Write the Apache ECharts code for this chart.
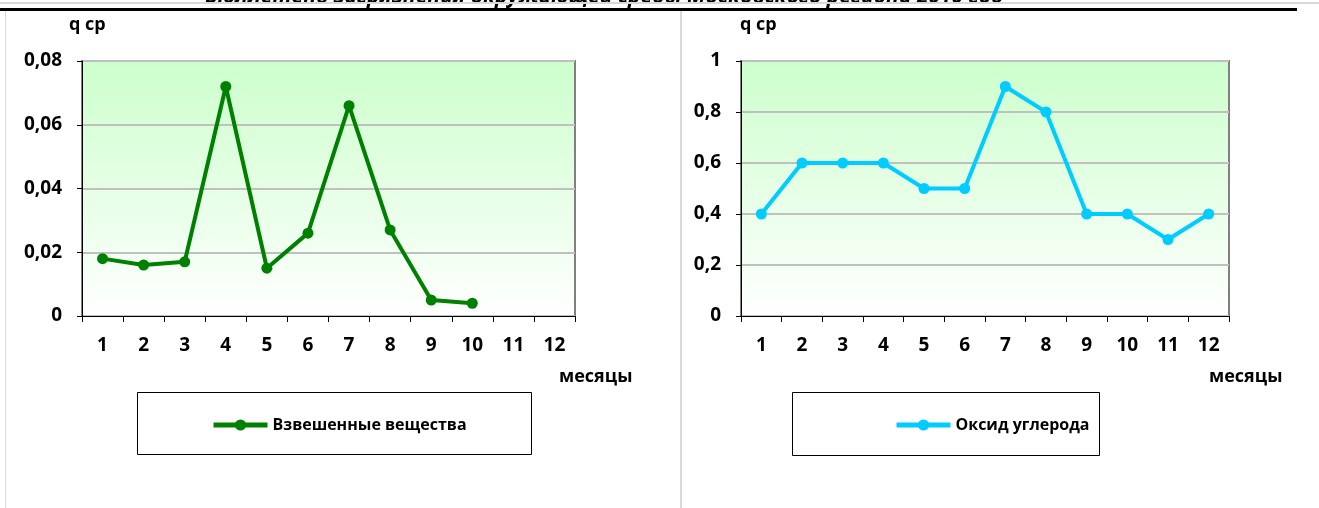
<!DOCTYPE html>
<html>
<head>
<meta charset="utf-8">
<script src="https://cdn.jsdelivr.net/npm/echarts@6/dist/echarts.min.js"></script>
<style>
  html, body { margin: 0; padding: 0; background: #fff; }
  #chart { width: 1319px; height: 508px; }
</style>
</head>
<body>
<div id="chart"></div>
<script>
// Monthly average concentrations (q ср) by month
const months = ['1', '2', '3', '4', '5', '6', '7', '8', '9', '10', '11', '12'];
const suspendedName = 'Взвешенные вещества';
const suspendedValues = [0.018, 0.016, 0.017, 0.072, 0.015, 0.026, 0.066, 0.027, 0.005, 0.004, null, null];
const carbonName = 'Оксид углерода';
const carbonValues = [0.4, 0.6, 0.6, 0.6, 0.5, 0.5, 0.9, 0.8, 0.4, 0.4, 0.3, 0.4];
const headerText = 'Бюллетень загрязнения окружающей среды Московского региона 2010 год';
const yAxisTitle = 'q ср';
const xAxisTitle = 'месяцы';

const FONT = '"Open Sans", "Noto Sans", sans-serif';
const plotFill = {
  type: 'linear', x: 0, y: 0, x2: 0, y2: 1,
  colorStops: [
    { offset: 0, color: '#ccffcc' },
    { offset: 1, color: '#ffffff' }
  ]
};

function commaNum(v) {
  return String(+(+v).toFixed(3)).replace('.', ',');
}

function xAxisCfg(gridIndex) {
  return {
    type: 'category', gridIndex, data: months, boundaryGap: true,
    axisLine: { show: true, lineStyle: { color: '#000', width: 1 } },
    axisTick: { show: true, length: 6, lineStyle: { color: '#000' } },
    axisLabel: { color: '#000', fontFamily: FONT, fontWeight: 'bold', fontSize: 19, margin: 20 },
    splitLine: { show: false }
  };
}

function yAxisCfg(gridIndex, max, interval) {
  return {
    type: 'value', gridIndex, min: 0, max, interval,
    axisLine: { show: true, lineStyle: { color: '#000', width: 1 } },
    axisTick: { show: true, length: 5, lineStyle: { color: '#000' } },
    axisLabel: { color: '#000', fontFamily: FONT, fontWeight: 'bold', fontSize: 19, margin: 20, formatter: commaNum },
    splitLine: { show: true, lineStyle: { color: '#c0c0c0', width: 2 } }
  };
}

function lineSeries(name, data, color, idx) {
  return {
    name, type: 'line', data, xAxisIndex: idx, yAxisIndex: idx,
    symbol: 'circle', symbolSize: 11, connectNulls: false,
    lineStyle: { color, width: 4 }, itemStyle: { color },
    emphasis: { disabled: true }, animation: false
  };
}

function legendCfg(name, left) {
  return {
    data: [name], left, top: 417, padding: 0, itemWidth: 54, itemHeight: 14, itemGap: 4,
    lineStyle: { width: 5 },
    textStyle: { color: '#000', fontFamily: FONT, fontWeight: 'bold', fontSize: 16 },
    selectedMode: false
  };
}

function labelText(x, y, text, size) {
  return {
    type: 'text', left: x, top: y, silent: true,
    style: { text, fill: '#000', font: 'bold ' + size + 'px ' + FONT }
  };
}

const chart = echarts.init(document.getElementById('chart'), null, { renderer: 'canvas' });
chart.setOption({
  backgroundColor: '#fff',
  animation: false,
  grid: [
    { left: 82, right: 744, top: 61, bottom: 192, show: true, backgroundColor: plotFill, borderColor: '#808080', borderWidth: 2 },
    { left: 741, right: 90, top: 61, bottom: 192, show: true, backgroundColor: plotFill, borderColor: '#808080', borderWidth: 2 }
  ],
  xAxis: [xAxisCfg(0), xAxisCfg(1)],
  yAxis: [yAxisCfg(0, 0.08, 0.02), yAxisCfg(1, 1, 0.2)],
  legend: [legendCfg(suspendedName, 211), legendCfg(carbonName, 894)],
  series: [
    lineSeries(suspendedName, suspendedValues, '#008000', 0),
    lineSeries(carbonName, carbonValues, '#00ccff', 1)
  ],
  graphic: [
    // page header line, cut at the top edge
    { type: 'text', left: 205, top: -13, silent: true,
      style: { text: headerText, fill: '#000', font: 'italic bold 21px ' + FONT } },
    { type: 'rect', shape: { x: 0, y: 2, width: 1319, height: 2 }, style: { fill: '#d9d9d9' }, silent: true },
    { type: 'rect', shape: { x: 0, y: 8, width: 1297, height: 3 }, style: { fill: '#000' }, silent: true },
    // panel frames
    { type: 'rect', shape: { x: 5, y: 11, width: 1, height: 497 }, style: { fill: '#d9d9d9' }, silent: true },
    { type: 'rect', shape: { x: 680, y: 11, width: 2, height: 497 }, style: { fill: '#d9d9d9' }, silent: true },
    // legend boxes
    { type: 'rect', shape: { x: 137.5, y: 392.5, width: 394, height: 62 }, style: { fill: 'none', stroke: '#000', lineWidth: 1 }, silent: true, z: -1 },
    { type: 'rect', shape: { x: 792.5, y: 392.5, width: 307, height: 63 }, style: { fill: 'none', stroke: '#000', lineWidth: 1 }, silent: true, z: -1 },
    // axis titles
    labelText(69, 16, yAxisTitle, 18),
    labelText(740, 16, yAxisTitle, 18),
    labelText(559, 368, xAxisTitle, 18),
    labelText(1209, 368, xAxisTitle, 18)
  ]
});
</script>
</body>
</html>
